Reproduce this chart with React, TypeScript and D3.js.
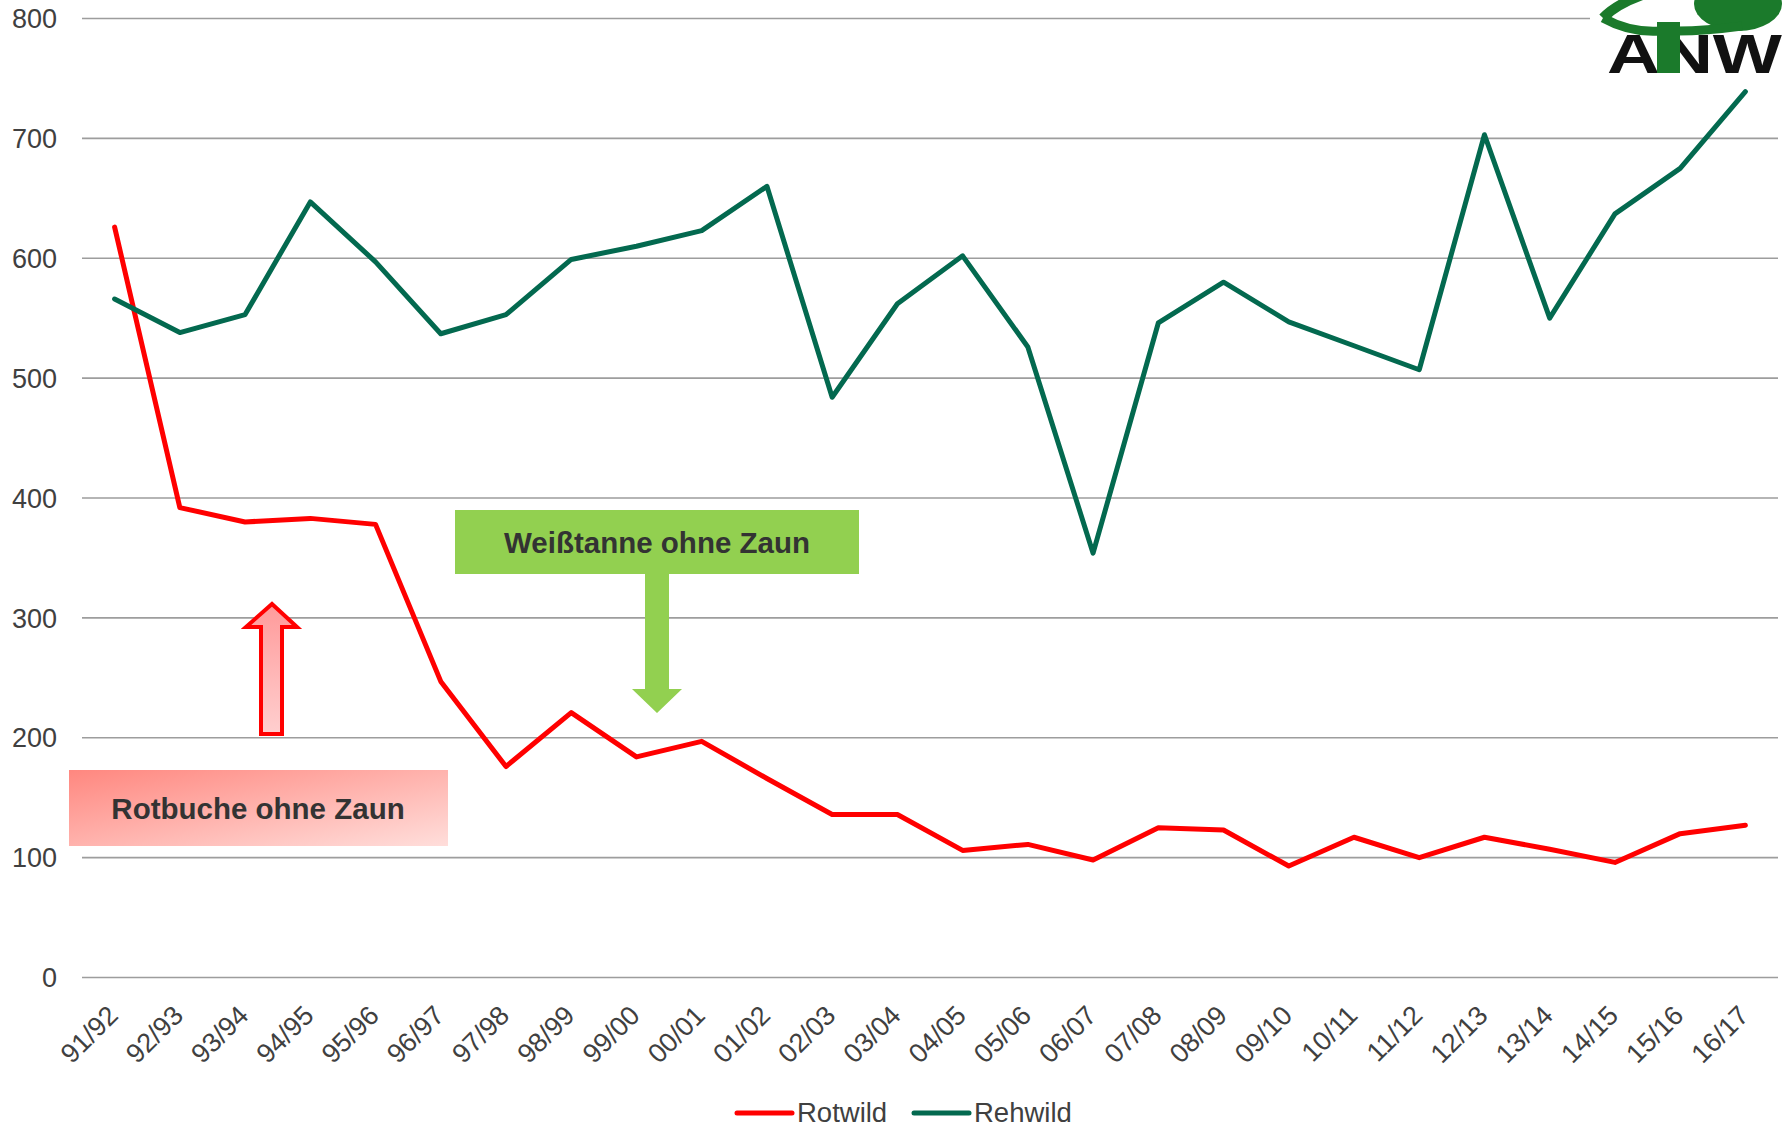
import React from "react";
import * as d3 from "d3";

const categories = ["91/92","92/93","93/94","94/95","95/96","96/97","97/98","98/99","99/00","00/01","01/02","02/03","03/04","04/05","05/06","06/07","07/08","08/09","09/10","10/11","11/12","12/13","13/14","14/15","15/16","16/17"];
const rotwild = [626,392,380,383,378,247,176,221,184,197,166,136,136,106,111,98,125,123,93,117,100,117,107,96,120,127];
const rehwild = [566,538,553,647,597,537,553,599,610,623,660,484,562,602,526,354,546,580,547,527,507,703,550,637,675,739];
const yTicks = [0,100,200,300,400,500,600,700,800];
const seriesNames = ["Rotwild","Rehwild"];
const seriesColors = ["#FF0000","#03694F"];
const annotationGreen = "Weißtanne ohne Zaun";
const annotationRed = "Rotbuche ohne Zaun";

const W = 1789, H = 1127;
const FONT = "'Liberation Sans', Arial, sans-serif";

export default function App() {
  const x = d3.scaleBand<string>().domain(categories).range([82, 1778]);
  const xc = (c: string) => (x(c) as number) + x.bandwidth() / 2;
  const y = d3.scaleLinear().domain([0, 800]).range([977.5, 18.5]);
  const line = d3.line<number>().x((_, i) => xc(categories[i])).y(d => y(d));
  const series = [rotwild, rehwild];

  return (
    <svg width={W} height={H} style={{ position: "absolute", left: 0, top: 0, background: "#fff" }} fontFamily={FONT}>
      <defs>
        <linearGradient id="redBox" x1="0" y1="0" x2="1" y2="1">
          <stop offset="0" stopColor="#FF877F" />
          <stop offset="1" stopColor="#FFDEDB" />
        </linearGradient>
        <linearGradient id="redArrow" x1="0" y1="0" x2="0" y2="1">
          <stop offset="0" stopColor="#FF9A9A" />
          <stop offset="1" stopColor="#FFCFCF" />
        </linearGradient>
      </defs>
      <rect width={W} height={H} fill="#fff" />
      {yTicks.map(t => (
        <g key={t}>
          <line x1={82} x2={1778} y1={y(t)} y2={y(t)} stroke="#9d9d9d" strokeWidth={1.6} />
          <text x={57} y={y(t)} dy="0.36em" textAnchor="end" fontSize={27} fill="#404040">{t}</text>
        </g>
      ))}
      {categories.map(c => (
        <text key={c} transform={`translate(${xc(c) + 5},1017) rotate(-45)`} textAnchor="end" fontSize={27} fill="#404040">{c}</text>
      ))}
      {/* logo */}
      <g>
        <rect x={1590} y={0} width={199} height={78} fill="#fff" />
        <ellipse cx={1738} cy={4} rx={44} ry={27} fill="#1B7A2B" />
        <path d="M1603,18 Q1616,4 1645,-6" fill="none" stroke="#1B7A2B" strokeWidth={10} />
        <path d="M1603,18 Q1630,33 1660,31" fill="none" stroke="#1B7A2B" strokeWidth={9} />
        <path d="M1678,31 Q1705,31 1742,26" fill="none" stroke="#1B7A2B" strokeWidth={9} />
        <text x={1607} y={73} fontSize={56} fontWeight="bold" fill="#111" textLength={175} lengthAdjust="spacingAndGlyphs">ANW</text>
        <rect x={1657} y={22} width={23} height={51} fill="#1B7A2B" />
      </g>
      {series.map((s, i) => (
        <path key={i} d={line(s) as string} fill="none" stroke={seriesColors[i]} strokeWidth={5} strokeLinejoin="round" strokeLinecap="round" />
      ))}
      {/* green annotation */}
      <rect x={455} y={510} width={404} height={64} fill="#92D050" />
      <text x={657} y={553} textAnchor="middle" fontSize={29.5} fontWeight="bold" fill="#333">{annotationGreen}</text>
      <path d="M645,574 L669,574 L669,689 L682,689 L657,713 L632,689 L645,689 Z" fill="#92D050" />
      {/* red annotation */}
      <path d="M272,604 L297,627 L282,627 L282,734 L261,734 L261,627 L246,627 Z" fill="url(#redArrow)" stroke="#FF0000" strokeWidth={4} />
      <rect x={69} y={770} width={379} height={76} fill="url(#redBox)" />
      <text x={258} y={819} textAnchor="middle" fontSize={29.5} fontWeight="bold" fill="#333">{annotationRed}</text>
      {/* legend */}
      {seriesNames.map((n, i) => {
        const lx = [737, 914][i];
        return (
          <g key={n}>
            <line x1={lx} x2={lx + 55} y1={1113} y2={1113} stroke={seriesColors[i]} strokeWidth={5} strokeLinecap="round" />
            <text x={lx + 60} y={1122} fontSize={27.5} fill="#404040">{n}</text>
          </g>
        );
      })}
    </svg>
  );
}
